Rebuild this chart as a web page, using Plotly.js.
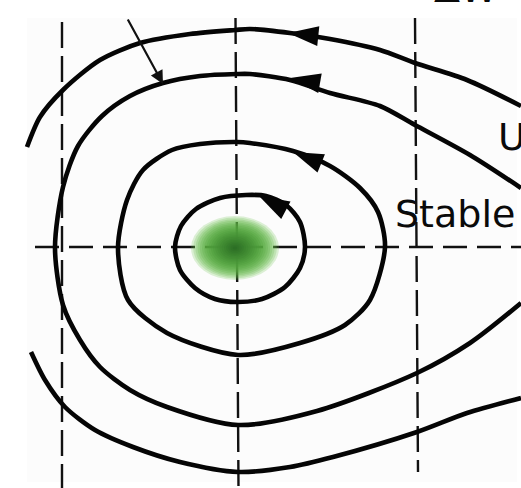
<!DOCTYPE html>
<html>
<head>
<meta charset="utf-8">
<script src="https://cdn.plot.ly/plotly-3.0.1.min.js"></script>
<style>html,body{margin:0;padding:0;background:#fff;}#plot{width:521px;height:488px;}</style>
</head>
<body>
<div id="plot"></div>
<script>
// Phase-plane sketch: closed (stable) orbits around a centre, open outer orbits.
// Coordinates are in drawing units (x to the right, y downward).

// innermost closed orbit
const orbit1X = [305, 300, 286, 266, 246, 220, 196, 181, 175, 180, 195, 215, 237, 262, 285, 300, 305];
const orbit1Y = [247, 222, 205, 196, 195, 198, 209, 226, 247, 270, 288, 299, 302, 299, 287, 268, 247];

// second closed orbit
const orbit2X = [385, 378, 360, 330, 293, 250, 237, 200, 172, 143, 127, 118, 128, 167, 238, 300, 345, 370, 385];
const orbit2Y = [247, 212, 188, 166, 151, 143, 142, 144, 150, 170, 200, 248, 300, 333, 355, 343, 325, 300, 247];

// third orbit (opens to the right)
const orbit3X = [521, 470, 415, 380, 330, 290, 250, 237, 200, 163, 130, 102, 78, 63, 55, 63, 80, 100, 130, 167, 238, 317, 417, 470, 521];
const orbit3Y = [188, 155, 125, 106, 93, 80, 74, 74, 76, 83, 96, 116, 146, 187, 248, 305, 340, 367, 390, 407, 425, 411, 373, 343, 303];

// outermost orbit: upper and lower branches
const orbit4TopX = [521, 467, 415, 380, 330, 290, 250, 235, 190, 140, 100, 63, 40, 27];
const orbit4TopY = [106, 80, 63, 50, 39, 33, 29, 30, 34, 43, 60, 90, 117, 147];
const orbit4BotX = [31, 45, 65, 95, 133, 180, 238, 290, 333, 417, 467, 521];
const orbit4BotY = [352, 380, 407, 430, 447, 462, 472, 467, 457, 432, 413, 398];

// direction arrows on the orbits (tip position and heading in degrees)
const arrowX = [288, 290, 293, 259];
const arrowY = [33, 78, 152, 196];
const arrowAngle = [-84, -80, -68, -62];

// dashed guide lines
const guideX = [[62, 62], [235.5, 238.5], [415, 418]];
const guideXY = [[22, 488], [18, 488], [18, 472]];
const guideY = [247];
const guideYX = [35, 521];

// centre point
const centreX = 235, centreY = 248;

// labels
const labelText = ['Stable', 'Unstable', 'ΔW'];

const curveLine = {color: '#050505', width: 4.6, shape: 'spline', smoothing: 0.8};
const traces = [
  {x: orbit1X, y: orbit1Y},
  {x: orbit2X, y: orbit2Y},
  {x: orbit3X, y: orbit3Y},
  {x: orbit4TopX, y: orbit4TopY},
  {x: orbit4BotX, y: orbit4BotY}
].map(t => Object.assign(t, {type: 'scatter', mode: 'lines', line: curveLine, hoverinfo: 'skip', showlegend: false}));

traces.push({
  type: 'scatter', mode: 'markers', x: arrowX, y: arrowY, showlegend: false, hoverinfo: 'skip',
  marker: {symbol: 'arrow', size: 32, color: '#050505', angle: arrowAngle, line: {width: 0}}
});

const shapes = [];
// slightly off-white scanned sheet
shapes.push({type: 'rect', xref: 'x', yref: 'y', x0: 27, x1: 517, y0: 18, y1: 482, fillcolor: '#fcfcfc', line: {width: 0}, layer: 'below'});
guideX.forEach((gx, i) => {
  shapes.push({type: 'line', xref: 'x', yref: 'y', x0: gx[0], x1: gx[1], y0: guideXY[i][0], y1: guideXY[i][1],
    line: {color: '#111', width: 2.4, dash: '26px,8px'}, layer: 'below'});
});
guideY.forEach(gy => {
  shapes.push({type: 'line', xref: 'x', yref: 'y', x0: guideYX[0], x1: guideYX[1], y0: gy, y1: gy,
    line: {color: '#111', width: 2.4, dash: '24px,10px'}, layer: 'below'});
});

// soft green spot at the centre, built from stacked translucent ellipses
const rx = 44, ry = 32, steps = 20;
for (let i = 0; i < steps; i++) {
  const t = i / (steps - 1);
  const s = 1 - 0.95 * t;
  const r = Math.round(105 - 65 * t), g = Math.round(195 - 90 * t), b = Math.round(75 - 40 * t);
  shapes.push({
    type: 'circle', xref: 'x', yref: 'y',
    x0: centreX - rx * s, x1: centreX + rx * s, y0: centreY - ry * s, y1: centreY + ry * s,
    fillcolor: `rgba(${r},${g},${b},${0.22 + 0.2 * t})`, line: {width: 0}, layer: 'below'
  });
}

const labelFont = {family: 'DejaVu Sans', size: 38, color: '#0a0a0a'};
const annotations = [
  {x: 393, y: 214, xref: 'x', yref: 'y', text: labelText[0], showarrow: false, xanchor: 'left', yanchor: 'middle', font: labelFont},
  {x: 496, y: 137, xref: 'x', yref: 'y', text: labelText[1], showarrow: false, xanchor: 'left', yanchor: 'middle', font: labelFont},
  {x: 432, y: 1 + 11 / 488, xref: 'x', yref: 'paper', text: labelText[2], showarrow: false, xanchor: 'left', yanchor: 'middle', font: labelFont},
  {x: 163, y: 84, ax: 127, ay: 18, xref: 'x', yref: 'y', axref: 'x', ayref: 'y', text: '', showarrow: true,
    arrowhead: 2, arrowsize: 1.2, arrowwidth: 2.2, arrowcolor: '#111', standoff: 0}
];

const axis = {showgrid: false, zeroline: false, showticklabels: false, ticks: '', showline: false, fixedrange: true};
const layout = {
  width: 521, height: 488,
  margin: {l: 0, r: 0, t: 0, b: 0},
  paper_bgcolor: '#ffffff', plot_bgcolor: '#ffffff',
  xaxis: Object.assign({range: [0, 521]}, axis),
  yaxis: Object.assign({range: [488, 0]}, axis),
  shapes: shapes,
  annotations: annotations,
  showlegend: false
};

Plotly.newPlot('plot', traces, layout, {staticPlot: true, displayModeBar: false});
</script>
</body>
</html>
